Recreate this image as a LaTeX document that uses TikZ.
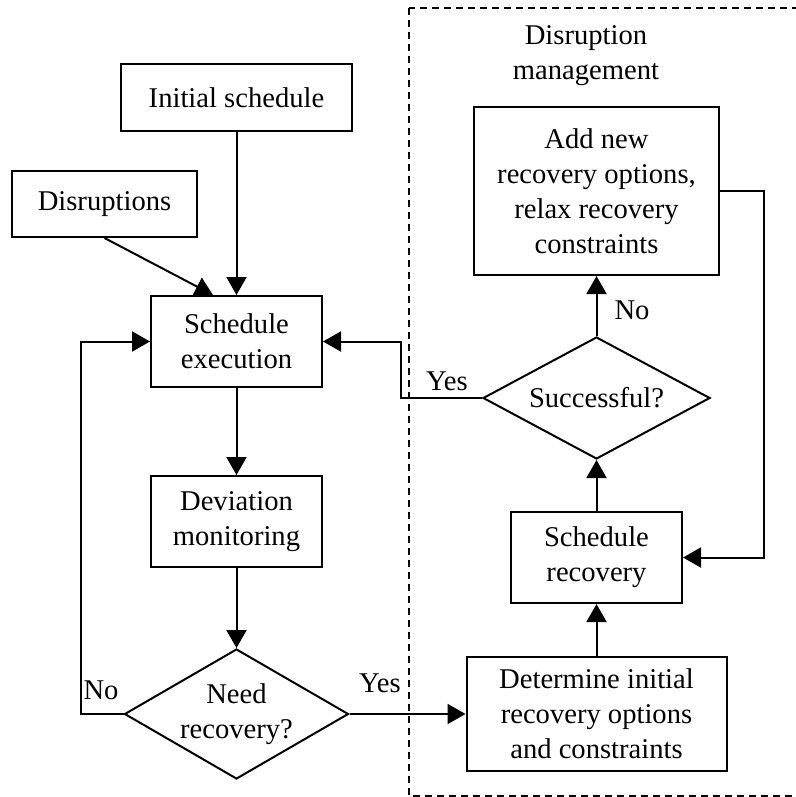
\documentclass[tikz,border=0pt]{standalone}
\usepackage{fontspec}
\setmainfont{Liberation Serif}
\usetikzlibrary{shapes.geometric, arrows.meta, positioning}

\newcommand{\flowfont}{\fontsize{14.3}{17.5}\selectfont}

\tikzset{
  block/.style={draw, line width=1pt, align=center, inner sep=0pt, font=\flowfont},
  decision/.style={diamond, draw, line width=1pt, align=center, inner sep=0pt, font=\flowfont},
  flow/.style={line width=1pt, -{Triangle[length=9pt,width=10pt]}},
  tag/.style={font=\flowfont, inner sep=0pt}
}

\begin{document}
\begin{tikzpicture}[x=0.5pt, y=-0.5pt]
\clip (0,0) rectangle (796,797);

% Disruption management area (dashed frame)
\draw[dashed, dash pattern=on 3.5pt off 2.5pt, line width=0.6pt] (409,8) rectangle (812,796);
\node[tag, align=center] (title) at (586,56) {Disruption\\management};

% Main loop
\node[block, minimum width=115.5pt, minimum height=33.5pt] (init) at (236.5,97.5) {Initial schedule};
\node[block, minimum width=92.5pt, minimum height=33pt] (disr) at (104.5,204) {Disruptions};
\node[block, minimum width=85.5pt, minimum height=45.5pt] (exec) at (236.5,341.5) {Schedule\\execution};
\node[block, minimum width=85.5pt, minimum height=45.5pt] (devmon) at (236.5,521.5) {Deviation\\monitoring};
\node[decision, minimum width=112pt, minimum height=65pt, shape aspect=1.7] (need) at (236.5,714) {Need\\recovery?};

% Recovery side
\node[block, minimum width=130pt, minimum height=57pt] (determ) at (596.5,714) {Determine initial\\recovery options\\and constraints};
\node[block, minimum width=85.5pt, minimum height=45.5pt] (schrec) at (596.5,557.5) {Schedule\\recovery};
\node[decision, minimum width=113.5pt, minimum height=61pt, shape aspect=1.86] (succ) at (596.5,398) {Successful?};
\node[block, minimum width=122.5pt, minimum height=84pt] (addnew) at (596.5,191) {Add new\\recovery options,\\relax recovery\\constraints};

% Connectors
\draw[flow] (init) -- (exec);
\draw[flow] (disr.south) -- ([xshift=-11.75pt]exec.north);
\draw[flow] (exec) -- (devmon);
\draw[flow] (devmon) -- (need);
\draw[flow] (need.west) -- ++(-43,0) |- (exec.west);
\node[tag] (no1) at (101,690) {No};
\draw[flow] (need) -- (determ);
\node[tag] (yes1) at (380,683) {Yes};
\draw[flow] (determ) -- (schrec);
\draw[flow] (schrec) -- (succ);
\draw[flow] (succ) -- (addnew);
\node[tag] (no2) at (632,310) {No};
\draw[flow] (addnew.east) -- ++(44,0) |- (schrec.east);
\draw[flow] (succ.west) -- ++(-81,0) |- (exec.east);
\node[tag] (yes2) at (447,381) {Yes};
\end{tikzpicture}
\end{document}
